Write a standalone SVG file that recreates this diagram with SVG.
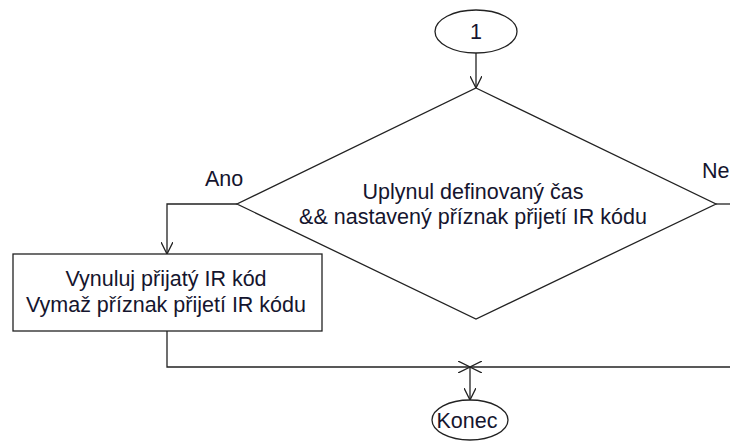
<svg xmlns="http://www.w3.org/2000/svg" width="730" height="443" viewBox="0 0 730 443">
  <style>
    .shape { fill: #ffffff; stroke: #222222; stroke-width: 1.3; }
    .line { fill: none; stroke: #222222; stroke-width: 1.3; }
    .label { font-family: "Liberation Sans", Arial, sans-serif; font-size: 21.5px; fill: #15152e; }
    .mid { text-anchor: middle; }
  </style>
  <defs>
    <marker id="arrow" viewBox="0 0 12 12" refX="12" refY="6" markerWidth="12" markerHeight="12" markerUnits="userSpaceOnUse" orient="auto">
      <path d="M0,0 L12,6 L0,12" fill="none" stroke="#222222" stroke-width="1.3"/>
    </marker>
  </defs>

  <g id="connectors">
    <line class="line" x1="476" y1="53" x2="476" y2="88" marker-end="url(#arrow)"/>
    <polyline class="line" points="237,204 167,204 167,254" marker-end="url(#arrow)"/>
    <line class="line" x1="716" y1="204" x2="731" y2="204"/>
    <polyline class="line" points="167,331 167,367 470,367" marker-end="url(#arrow)"/>
    <line class="line" x1="731" y1="367" x2="470" y2="367" marker-end="url(#arrow)"/>
    <line class="line" x1="470" y1="367" x2="470" y2="400" marker-end="url(#arrow)"/>
  </g>

  <g id="start">
    <ellipse class="shape" cx="476" cy="31.5" rx="41" ry="21.5"/>
    <text class="label mid" x="476" y="39">1</text>
  </g>

  <g id="decision">
    <polygon class="shape" points="476,88 716,204 476,319 237,204"/>
    <text class="label mid" x="473" y="199">Uplynul definovaný čas</text>
    <text class="label mid" x="473" y="224">&amp;&amp; nastavený příznak přijetí IR kódu</text>
  </g>

  <g id="label-yes">
    <text class="label" x="205" y="186">Ano</text>
  </g>
  <g id="label-no">
    <text class="label" x="702" y="178">Ne</text>
  </g>

  <g id="reset">
    <rect class="shape" x="13" y="254" width="309" height="77"/>
    <text class="label mid" x="166" y="286">Vynuluj přijatý IR kód</text>
    <text class="label mid" x="166" y="312">Vymaž příznak přijetí IR kódu</text>
  </g>

  <g id="end">
    <ellipse class="shape" cx="470" cy="420" rx="38" ry="20"/>
    <text class="label mid" x="467" y="428">Konec</text>
  </g>
</svg>
